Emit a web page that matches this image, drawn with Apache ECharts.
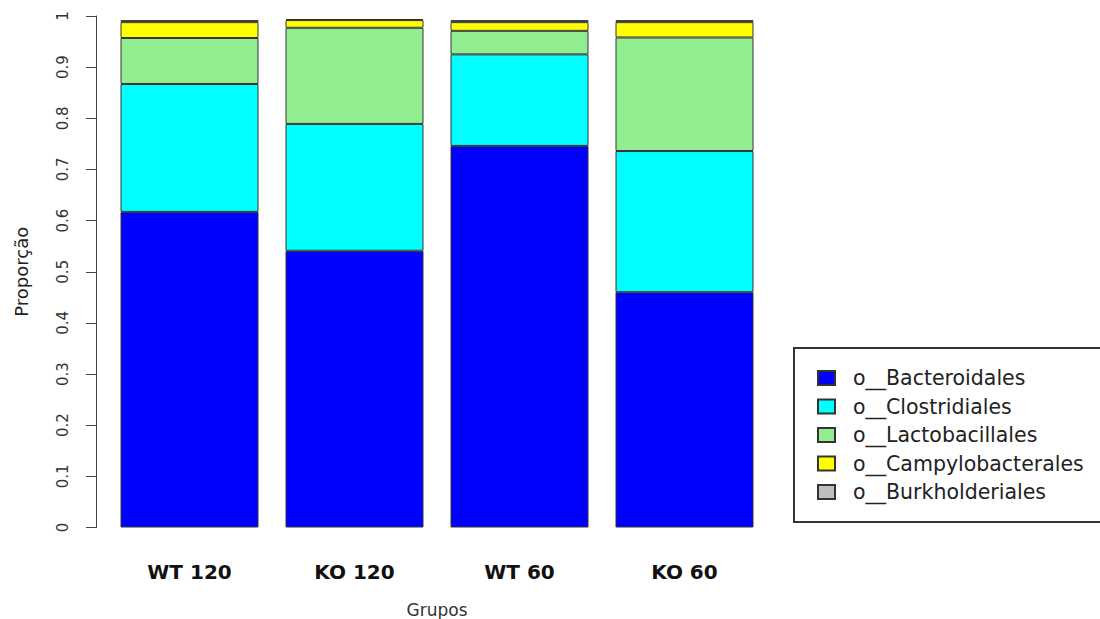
<!DOCTYPE html>
<html>
<head>
<meta charset="utf-8">
<script src="https://cdn.jsdelivr.net/npm/echarts@6/dist/echarts.min.js"></script>
<style>
html,body{margin:0;padding:0;background:#fff;}
#chart{width:1100px;height:619px;}
</style>
</head>
<body>
<div id="chart"></div>
<script>
// Data
const categories = ['WT 120', 'KO 120', 'WT 60', 'KO 60'];
const seriesNames = ['o__Bacteroidales', 'o__Clostridiales', 'o__Lactobacillales', 'o__Campylobacterales', 'o__Burkholderiales'];
const bacteroidales = [0.617, 0.541, 0.746, 0.460];
const clostridiales = [0.250, 0.248, 0.179, 0.276];
const lactobacillales = [0.090, 0.188, 0.046, 0.222];
const campylobacterales = [0.031, 0.015, 0.017, 0.030];
const burkholderiales = [0.004, 0.002, 0.004, 0.004];
const yTickLabels = ['0', '0.1', '0.2', '0.3', '0.4', '0.5', '0.6', '0.7', '0.8', '0.9', '1'];
const axisTitleY = 'Proporção';
const axisTitleX = 'Grupos';

const colors = ['#0000FF', '#00FFFF', '#90EE90', '#FFFF00', '#BEBEBE'];
const valuesList = [bacteroidales, clostridiales, lactobacillales, campylobacterales, burkholderiales];

const chart = echarts.init(document.getElementById('chart'), null, {renderer: 'svg'});
const option = {
  backgroundColor: '#ffffff',
  animation: false,
  grid: {left: 107, top: 16, width: 660, height: 511.5, outerBoundsMode: 'none', containLabel: false},
  legend: {
    orient: 'vertical',
    left: 794,
    top: 348,
    padding: [19.5, 30, 19.5, 23],
    borderColor: '#333',
    borderWidth: 2,
    borderRadius: 0,
    itemWidth: 17,
    itemHeight: 14,
    itemGap: 7.5,
    icon: 'rect',
    selectedMode: false,
    textStyle: {
      fontFamily: 'DejaVu Sans',
      fontSize: 20.5,
      color: '#222',
      lineHeight: 20,
      padding: [0, 0, 0, 13]
    },
    data: seriesNames
  },
  xAxis: {
    type: 'category',
    data: categories,
    axisLine: {show: false},
    axisTick: {show: false},
    axisLabel: {
      fontFamily: 'DejaVu Sans',
      fontWeight: 'bold',
      fontSize: 20,
      color: '#111',
      margin: 34
    },
    name: axisTitleX,
    nameLocation: 'middle',
    nameGap: 74,
    nameTextStyle: {fontFamily: 'DejaVu Sans', fontSize: 17, color: '#333'}
  },
  yAxis: {
    type: 'value',
    min: 0,
    max: 1,
    interval: 0.1,
    offset: 11,
    splitLine: {show: false},
    axisLine: {show: true, lineStyle: {color: '#444', width: 1}},
    axisTick: {show: true, length: 10, lineStyle: {color: '#444', width: 1}},
    axisLabel: {
      rotate: 90,
      margin: 26,
      fontFamily: 'DejaVu Sans',
      fontSize: 15,
      color: '#333',
      formatter: function (v) {
        const i = Math.round(v * 10);
        return yTickLabels[i] !== undefined ? yTickLabels[i] : '';
      }
    },
    name: axisTitleY,
    nameLocation: 'middle',
    nameRotate: 90,
    nameGap: 66,
    nameTextStyle: {fontFamily: 'DejaVu Sans', fontSize: 18, color: '#222'}
  },
  series: seriesNames.map(function (name, i) {
    return {
      name: name,
      type: 'bar',
      stack: 'total',
      barWidth: 138,
      data: valuesList[i],
      itemStyle: {color: colors[i], borderColor: '#333', borderWidth: 1},
      emphasis: {disabled: true}
    };
  })
};
chart.setOption(option);
</script>
</body>
</html>
